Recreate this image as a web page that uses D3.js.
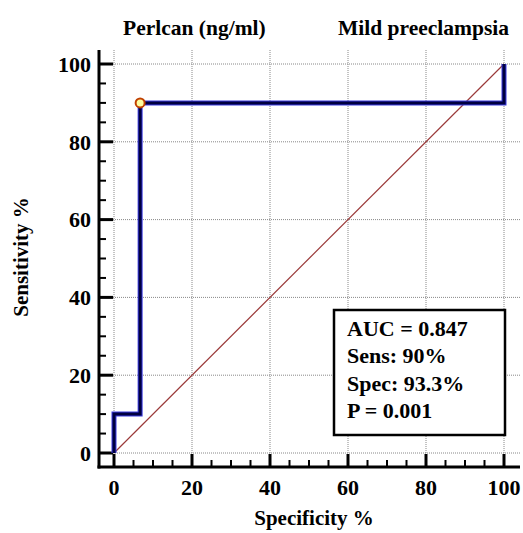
<!DOCTYPE html>
<html>
<head>
<meta charset="utf-8">
<script src="https://cdn.jsdelivr.net/npm/d3@7"></script>
<style>
  html, body { margin: 0; padding: 0; background: #fff; }
  svg { display: block; }
</style>
</head>
<body>
<svg id="chart" width="523" height="533"></svg>
<script>
// ---- data ----
const rocX = [0, 0, 6.7, 6.7, 100, 100];      // 100 - Specificity %
const rocY = [0, 10, 10, 90, 90, 100];        // Sensitivity %
const criterionPoint = [6.7, 90];
const diagonal = [[0, 0], [100, 100]];
const majorTicks = [0, 20, 40, 60, 80, 100];
const minorTicks = d3.range(0, 101, 5);
const statsLines = ["AUC = 0.847", "Sens: 90%", "Spec: 93.3%", "P = 0.001"];
const titleLeft = "Perlcan (ng/ml)";
const titleRight = "Mild preeclampsia";
const xLabel = "Specificity %";
const yLabel = "Sensitivity %";

// ---- layout ----
const FONT = "'Liberation Serif', monospace";
const svg = d3.select("#chart");
const x = d3.scaleLinear().domain([0, 100]).range([114, 504]);
const y = d3.scaleLinear().domain([0, 100]).range([453, 64]);
const frameLeft = 99, frameRight = 520, frameTop = 50, frameBottom = 467;

function txt(sel) {
  return sel.attr("font-family", FONT).attr("font-weight", "bold").attr("fill", "#000");
}

// grid (dotted)
const grid = svg.append("g");
grid.selectAll("line.v").data(majorTicks).join("line")
  .attr("x1", d => x(d)).attr("x2", d => x(d))
  .attr("y1", frameTop).attr("y2", frameBottom)
  .attr("stroke", "#888").attr("stroke-width", 1).attr("stroke-dasharray", "1,1");
grid.selectAll("line.h").data(majorTicks).join("line")
  .attr("y1", d => y(d)).attr("y2", d => y(d))
  .attr("x1", frameLeft).attr("x2", frameRight)
  .attr("stroke", "#888").attr("stroke-width", 1).attr("stroke-dasharray", "1,1");

// axes lines
svg.append("line").attr("x1", frameLeft).attr("x2", frameLeft)
  .attr("y1", frameTop).attr("y2", frameBottom + 1.5)
  .attr("stroke", "#000").attr("stroke-width", 3);
svg.append("line").attr("x1", frameLeft - 1.5).attr("x2", frameRight)
  .attr("y1", frameBottom).attr("y2", frameBottom)
  .attr("stroke", "#000").attr("stroke-width", 3);

// y ticks
svg.append("g").selectAll("line").data(minorTicks).join("line")
  .attr("x1", frameLeft).attr("x2", d => frameLeft + (d % 20 === 0 ? 14 : 7))
  .attr("y1", d => y(d)).attr("y2", d => y(d))
  .attr("stroke", "#000").attr("stroke-width", d => d % 20 === 0 ? 3 : 2);
// x ticks
svg.append("g").selectAll("line").data(minorTicks).join("line")
  .attr("y1", frameBottom).attr("y2", d => frameBottom - (d % 20 === 0 ? 13 : 7))
  .attr("x1", d => x(d)).attr("x2", d => x(d))
  .attr("stroke", "#000").attr("stroke-width", d => d % 20 === 0 ? 3 : 2);

// tick labels
txt(svg.append("g").selectAll("text").data(majorTicks).join("text"))
  .attr("x", 91).attr("y", d => y(d)).attr("dy", "0.35em")
  .attr("text-anchor", "end").attr("font-size", 22).text(d => d);
txt(svg.append("g").selectAll("text").data(majorTicks).join("text"))
  .attr("x", d => x(d)).attr("y", 495)
  .attr("text-anchor", "middle").attr("font-size", 22).text(d => d);

// axis labels
txt(svg.append("text")).attr("x", 314).attr("y", 525).attr("text-anchor", "middle")
  .attr("font-size", 21).text(xLabel);
txt(svg.append("text")).attr("transform", "translate(28,257) rotate(-90)")
  .attr("text-anchor", "middle").attr("font-size", 21).text(yLabel);

// titles
txt(svg.append("text")).attr("x", 123).attr("y", 35).attr("font-size", 21.5).text(titleLeft);
txt(svg.append("text")).attr("x", 509).attr("y", 35).attr("text-anchor", "end").attr("font-size", 21.5).text(titleRight);

// diagonal
svg.append("line")
  .attr("x1", x(diagonal[0][0])).attr("y1", y(diagonal[0][1]))
  .attr("x2", x(diagonal[1][0])).attr("y2", y(diagonal[1][1]))
  .attr("stroke", "#9b3a3a").attr("stroke-width", 1.2);

// ROC curve
const pts = rocX.map((d, i) => [d, rocY[i]]);
const line = d3.line().x(d => x(d[0])).y(d => y(d[1]));
svg.append("path").attr("d", line(pts)).attr("fill", "none")
  .attr("stroke", "#3a3ae0").attr("stroke-width", 5).attr("stroke-linejoin", "miter");
svg.append("path").attr("d", line(pts)).attr("fill", "none")
  .attr("stroke", "#000040").attr("stroke-width", 3).attr("stroke-linejoin", "miter");

// criterion point
svg.append("circle").attr("cx", x(criterionPoint[0])).attr("cy", y(criterionPoint[1]))
  .attr("r", 4.5).attr("fill", "#ffffa0").attr("stroke", "#c04000").attr("stroke-width", 2);

// stats box
svg.append("rect").attr("x", 334).attr("y", 310).attr("width", 171).attr("height", 125)
  .attr("fill", "#fff").attr("stroke", "#000").attr("stroke-width", 2.5);
txt(svg.append("g").selectAll("text").data(statsLines).join("text"))
  .attr("x", 347).attr("y", (d, i) => 336 + i * 27.3)
  .attr("font-size", 22).text(d => d);
</script>
</body>
</html>
